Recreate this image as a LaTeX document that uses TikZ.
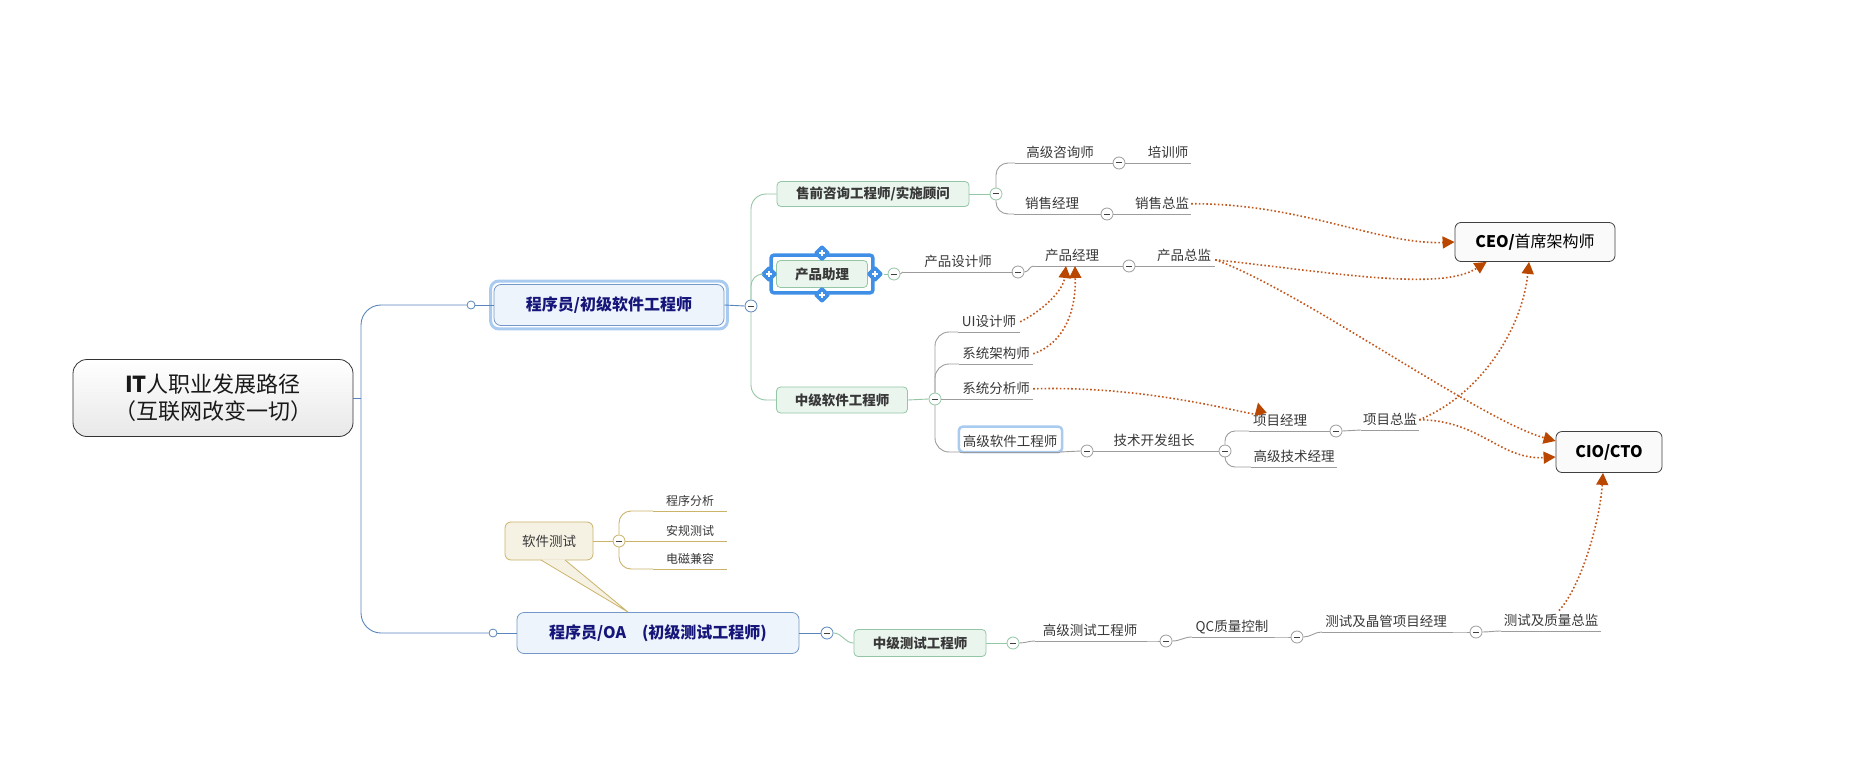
\documentclass[tikz,border=0pt]{standalone}
\usepackage{fontspec}
\newfontfamily\cjkfont{Noto Sans CJK SC}
\usetikzlibrary{arrows.meta,shapes.geometric}

\definecolor{trunkblue}{HTML}{5A85BC}
\definecolor{greenlin}{HTML}{93C6A4}
\definecolor{greylin}{HTML}{9C9C9C}
\definecolor{goldlin}{HTML}{CBB36A}
\definecolor{relcol}{HTML}{C2561B}
\definecolor{tipcol}{HTML}{B94700}
\definecolor{navy}{HTML}{15157A}
\definecolor{txtgrey}{HTML}{383838}
\definecolor{selblue}{HTML}{3F8FE6}
\definecolor{hiblue}{HTML}{AACBF0}
\definecolor{mainfill}{HTML}{EEF4FC}
\definecolor{subfill}{HTML}{EAF5EE}
\definecolor{notefill}{HTML}{F5F2E4}

\tikzstyle{rootbox}=[draw=black!80,top color=white,bottom color=black!9,rounded corners=14pt,line width=0.8pt,minimum width=280pt,minimum height=77pt,align=center,font=\cjkfont\fontsize{22}{27}\selectfont,text=black!90]
\tikzstyle{mainbox}=[draw=trunkblue!85,fill=mainfill,rounded corners=7pt,line width=0.8pt,minimum height=41pt,font=\cjkfont\bfseries\fontsize{16}{19}\selectfont,text=navy]
\tikzstyle{subbox}=[draw=greenlin,fill=subfill,rounded corners=4pt,line width=0.8pt,minimum height=26pt,font=\cjkfont\bfseries\fontsize{13.5}{16}\selectfont,text=txtgrey]
\tikzstyle{goalbox}=[draw=black!75,fill=black!2,rounded corners=6pt,line width=0.8pt,font=\cjkfont\fontsize{16}{19}\selectfont,text=black]
\tikzstyle{notebox}=[draw=goldlin,fill=notefill,rounded corners=6pt,line width=0.8pt,minimum width=88pt,minimum height=38pt,font=\cjkfont\fontsize{13.5}{16}\selectfont,text=txtgrey]
\tikzstyle{topic}=[anchor=south,inner sep=2pt,minimum height=20pt,font=\cjkfont\fontsize{13.5}{16}\selectfont,text=txtgrey]
\tikzstyle{smalltopic}=[topic,font=\cjkfont\fontsize{12}{14}\selectfont]
\tikzstyle{foldbtn}=[circle,draw=greylin,fill=white,line width=0.8pt,minimum size=12pt,inner sep=0pt,
  path picture={\draw[line width=1pt,black!75] ([xshift=-3pt]path picture bounding box.center) -- ([xshift=3pt]path picture bounding box.center);}]
\tikzstyle{openbtn}=[circle,draw=trunkblue,fill=white,line width=0.8pt,minimum size=8pt,inner sep=0pt]
\tikzstyle{knob}=[diamond,fill=selblue,minimum size=17pt,inner sep=0pt,rounded corners=2pt,
  path picture={\draw[white,line width=1.4pt] ([xshift=-3pt]path picture bounding box.center) -- ([xshift=3pt]path picture bounding box.center) ([yshift=-3pt]path picture bounding box.center) -- ([yshift=3pt]path picture bounding box.center);}]
\tikzstyle{trunk}=[trunkblue,line width=0.9pt]
\tikzstyle{gline}=[greenlin,line width=0.9pt]
\tikzstyle{gyline}=[greylin,line width=0.9pt]
\tikzstyle{auline}=[goldlin,line width=0.9pt]
\tikzstyle{rel}=[relcol,line width=1.6pt,dash pattern=on 1.6pt off 2.2pt,-{Triangle[length=12pt,width=12pt,fill=tipcol,color=tipcol]}]

\begin{document}
\begin{tikzpicture}[x=1pt,y=-1pt]
  \path[use as bounding box,fill=white] (0,0) rectangle (1851,770);

  % central topic and the two main roles
  \node[rootbox] at (213,398) (root) {\textbf{IT}人职业发展路径\\（互联网改变一切）};
  \coordinate (rj) at (361,398);
  \node[mainbox,minimum width=230pt] at (609,305) (junior) {程序员/初级软件工程师};
  \node[mainbox,minimum width=282pt] at (658,633) (tester) {程序员/OA\quad(初级测试工程师)};
  \node[openbtn] at (471,305) (ojunior) {};
  \node[openbtn] at (493,633) (otester) {};
  \node[foldbtn,draw=trunkblue] at (751,306) (fjunior) {};
  \node[foldbtn,draw=trunkblue] at (827,633) (ftester) {};

  % second level (green boxes)
  \node[subbox,minimum width=192pt,minimum height=25pt] at (873,194) (presale) {售前咨询工程师/实施顾问};
  \node[subbox,minimum width=91pt,minimum height=27pt] at (822,274) (passist) {产品助理};
  \node[subbox,minimum width=131pt] at (842,400) (midsw) {中级软件工程师};
  \node[subbox,minimum width=132pt,minimum height=27pt] at (920,643) (midtest) {中级测试工程师};
  \node[foldbtn,draw=greenlin] at (996,194) (fpresale) {};
  \node[foldbtn,draw=greenlin] at (894,274) (fpassist) {};
  \node[foldbtn,draw=greenlin] at (935,399) (fmidsw) {};
  \node[foldbtn,draw=greenlin] at (1013,643) (fmidtest) {};

  % presale branch
  \node[topic,minimum width=90pt] at (1060,163) (consult) {高级咨询师};
  \node[foldbtn] at (1119,163) (fconsult) {};
  \node[topic,minimum width=46pt] at (1168,163) (trainer) {培训师};
  \node[topic,minimum width=76pt] at (1052,214) (salesmgr) {销售经理};
  \node[foldbtn] at (1107,214) (fsalesmgr) {};
  \node[topic,minimum width=58pt] at (1162,214) (salesdir) {销售总监};

  % product branch
  \node[topic,minimum width=110pt] at (958,272) (pdesign) {产品设计师};
  \node[foldbtn] at (1018,272) (fpdesign) {};
  \node[topic,minimum width=76pt] at (1072,266) (pmgr) {产品经理};
  \node[foldbtn] at (1129,266) (fpmgr) {};
  \node[topic,minimum width=62pt] at (1184,266) (pdir) {产品总监};

  % middle software engineer branch
  \node[topic,minimum width=62pt] at (989,332) (uides) {UI设计师};
  \node[topic,minimum width=74pt] at (996,364) (arch) {系统架构师};
  \node[topic,minimum width=74pt] at (996,399) (analyst) {系统分析师};
  \node[topic,minimum width=100pt] at (1010,452) (senior) {高级软件工程师};
  \node[foldbtn] at (1087,451) (fsenior) {};
  \node[topic,minimum width=100pt] at (1154,451) (techlead) {技术开发组长};
  \node[foldbtn] at (1225,451) (ftechlead) {};
  \node[topic,minimum width=62pt] at (1280,431) (projmgr) {项目经理};
  \node[foldbtn] at (1336,431) (fprojmgr) {};
  \node[topic,minimum width=58pt] at (1390,430) (projdir) {项目总监};
  \node[topic,minimum width=86pt] at (1294,467) (techmgr) {高级技术经理};

  % tester branch
  \node[notebox] at (549,541) (swtest) {软件测试};
  \node[foldbtn,draw=goldlin] at (619,541) (fswtest) {};
  \node[smalltopic,minimum width=74pt] at (690,511) (proganal) {程序分析};
  \node[smalltopic,minimum width=74pt] at (690,541) (safety) {安规测试};
  \node[smalltopic,minimum width=74pt] at (690,569) (emc) {电磁兼容};
  \node[topic,minimum width=110pt] at (1090,641) (srtest) {高级测试工程师};
  \node[foldbtn] at (1166,641) (fsrtest) {};
  \node[topic,minimum width=80pt] at (1232,637) (qc) {QC质量控制};
  \node[foldbtn] at (1297,637) (fqc) {};
  \node[topic,minimum width=128pt] at (1386,632) (testpm) {测试及晶管项目经理};
  \node[foldbtn] at (1476,632) (ftestpm) {};
  \node[topic,minimum width=100pt] at (1551,631) (qadir) {测试及质量总监};

  % top positions
  \node[goalbox,minimum width=160pt,minimum height=39pt] at (1535,242) (ceo) {\textbf{CEO/}首席架构师};
  \node[goalbox,minimum width=106pt,minimum height=41pt] at (1609,452) (cio) {\textbf{CIO/CTO}};

  % selection marks
  \draw[hiblue,line width=3pt,rounded corners=8pt] ([shift={(-3pt,-3pt)}]junior.south west) rectangle ([shift={(3pt,3pt)}]junior.north east);
  \draw[hiblue,line width=2.5pt,rounded corners=4pt] ([shift={(-1pt,0pt)}]senior.south west) rectangle ([shift={(2pt,5pt)}]senior.north east);
  \draw[selblue,line width=3.5pt,rounded corners=3pt] ([shift={(-5pt,-5pt)}]passist.south west) rectangle ([shift={(5pt,5pt)}]passist.north east);
  \node[knob] at ([yshift=7pt]passist.north) (ktop) {};
  \node[knob] at ([yshift=-7pt]passist.south) (kbot) {};
  \node[knob] at ([xshift=-7pt]passist.west) (kleft) {};
  \node[knob] at ([xshift=7pt]passist.east) (kright) {};

  % callout tail
  \fill[notefill] ([xshift=-8pt,yshift=1pt]swtest.south) -- ([xshift=-30pt]tester.north) -- ([xshift=16pt,yshift=1pt]swtest.south) -- cycle;
  \draw[goldlin,line width=0.8pt] ([xshift=-8pt,yshift=0.4pt]swtest.south) -- ([xshift=-30pt]tester.north) -- ([xshift=16pt,yshift=0.4pt]swtest.south);

  % main trunk
  \draw[trunk] (root.east) -- (rj);
  \draw[trunk,rounded corners=20pt] (rj) |- (ojunior.west);
  \draw[trunk,rounded corners=20pt] (rj) |- (otester.west);
  \draw[trunk] (ojunior.east) -- (junior.west);
  \draw[trunk] (otester.east) -- (tester.west);
  \draw[trunk] (junior.east) -- (fjunior.west);
  \draw[trunk] (tester.east) -- (ftester.west);

  % green links
  \draw[gline,rounded corners=15pt] (fjunior.north) |- (presale.west);
  \draw[gline,rounded corners=12pt] (fjunior.north) |- (kleft.west);
  \draw[gline,rounded corners=15pt] (fjunior.south) |- (midsw.west);
  \draw[gline] (presale.east) -- (fpresale.west);
  \draw[gline] (kright.east) -- (fpassist.west);
  \draw[gline] (midsw.east) -- (fmidsw.west);
  \draw[gline] (ftester.east) to[out=0,in=180] (midtest.west);
  \draw[gline] (midtest.east) -- (fmidtest.west);

  % grey links
  \draw[gyline,rounded corners=12pt] (fpresale.north) |- (consult.south west);
  \draw[gyline,rounded corners=12pt] (fpresale.south) |- (salesmgr.south west);
  \draw[gyline] (consult.south east) -- (fconsult.west);
  \draw[gyline] (fconsult.east) -- (trainer.south west);
  \draw[gyline] (salesmgr.south east) -- (fsalesmgr.west);
  \draw[gyline] (fsalesmgr.east) -- (salesdir.south west);
  \draw[gyline] (fpassist.east) to[out=0,in=180] (pdesign.south west);
  \draw[gyline] (pdesign.south east) -- (fpdesign.west);
  \draw[gyline] (fpdesign.east) to[out=0,in=180] (pmgr.south west);
  \draw[gyline] (pmgr.south east) -- (fpmgr.west);
  \draw[gyline] (fpmgr.east) -- (pdir.south west);
  \draw[gyline,rounded corners=14pt] (fmidsw.north) |- (uides.south west);
  \draw[gyline,rounded corners=14pt] (fmidsw.north) |- (arch.south west);
  \draw[gyline] (fmidsw.east) -- (analyst.south west);
  \draw[gyline,rounded corners=14pt] (fmidsw.south) |- (senior.south west);
  \draw[gyline] (senior.south east) -- (fsenior.west);
  \draw[gyline] (fsenior.east) -- (techlead.south west);
  \draw[gyline] (techlead.south east) -- (ftechlead.west);
  \draw[gyline,rounded corners=10pt] (ftechlead.north) |- (projmgr.south west);
  \draw[gyline,rounded corners=10pt] (ftechlead.south) |- (techmgr.south west);
  \draw[gyline] (projmgr.south east) -- (fprojmgr.west);
  \draw[gyline] (fprojmgr.east) -- (projdir.south west);
  \draw[gyline] (fmidtest.east) to[out=0,in=180] (srtest.south west);
  \draw[gyline] (srtest.south east) to[out=0,in=180] (fsrtest.west);
  \draw[gyline] (fsrtest.east) to[out=0,in=180] (qc.south west);
  \draw[gyline] (qc.south east) to[out=0,in=180] (fqc.west);
  \draw[gyline] (fqc.east) to[out=0,in=180] (testpm.south west);
  \draw[gyline] (testpm.south east) to[out=0,in=180] (ftestpm.west);
  \draw[gyline] (ftestpm.east) to[out=0,in=180] (qadir.south west);
  \foreach \t in {consult,trainer,salesmgr,salesdir,pdesign,pmgr,pdir,uides,arch,analyst,senior,techlead,projmgr,projdir,techmgr,srtest,qc,testpm,qadir}
    \draw[gyline] (\t.south west) -- (\t.south east);

  % golden links
  \draw[auline] (swtest.east) -- (fswtest.west);
  \draw[auline,rounded corners=12pt] (fswtest.north) |- (proganal.south west);
  \draw[auline] (fswtest.east) -- (safety.south west);
  \draw[auline,rounded corners=12pt] (fswtest.south) |- (emc.south west);
  \foreach \t in {proganal,safety,emc}
    \draw[auline] (\t.south west) -- (\t.south east);

  % relationships
  \draw[rel] (salesdir.east) .. controls (1300,203) and (1380,245) .. (ceo.west);
  \draw[rel] ([yshift=-4pt]pdir.east) .. controls (1330,272) and (1440,292) .. ([xshift=32pt]ceo.south west);
  \draw[rel] ([yshift=-4pt]pdir.east) .. controls (1300,290) and (1480,420) .. ([yshift=11pt]cio.west);
  \draw[rel] (projdir.east) .. controls (1480,395) and (1522,330) .. ([xshift=-6pt]ceo.south);
  \draw[rel] (projdir.east) .. controls (1480,420) and (1500,460) .. ([yshift=-5pt]cio.west);
  \draw[rel] (analyst.east) .. controls (1160,385) and (1262,420) .. ([xshift=-22pt,yshift=8pt]projmgr.north);
  \draw[rel] (uides.east) .. controls (1040,312) and (1063,292) .. ([xshift=-6pt]pmgr.south);
  \draw[rel] (arch.east) .. controls (1065,343) and (1076,310) .. ([xshift=3pt]pmgr.south);
  \draw[rel] ([xshift=8pt]qadir.north) .. controls (1582,585) and (1600,520) .. ([xshift=-6pt]cio.south);

\end{tikzpicture}
\end{document}
